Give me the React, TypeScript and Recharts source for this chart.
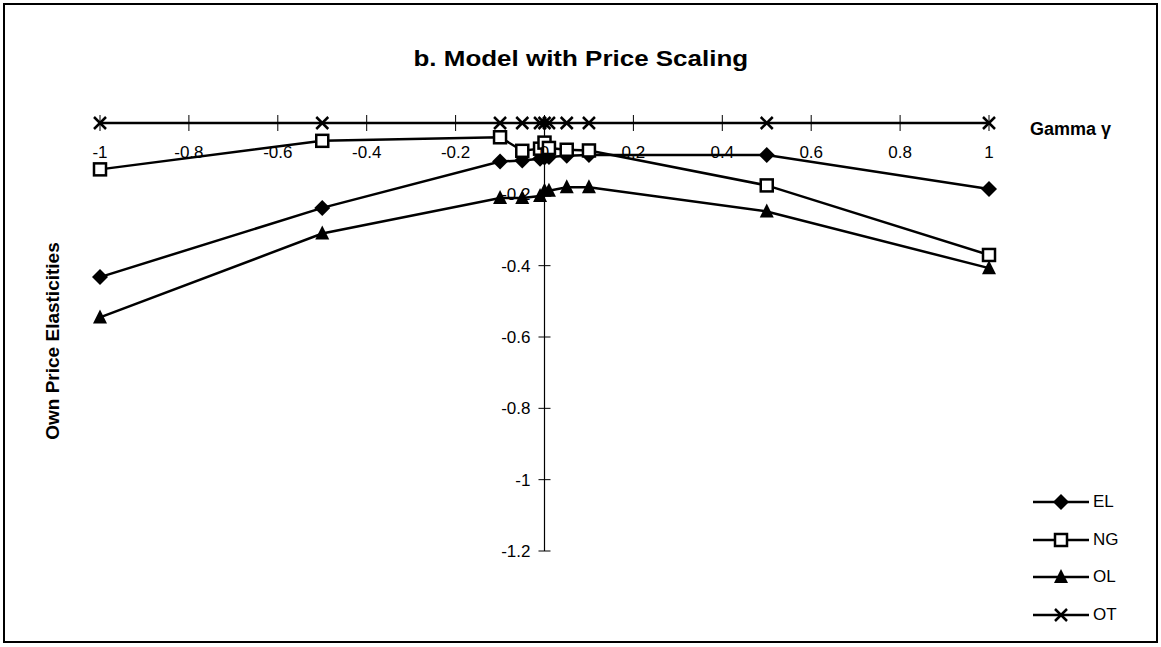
import { LineChart, Line, XAxis, YAxis, ReferenceLine, Legend } from 'recharts'

const gamma = [-1, -0.5, -0.1, -0.05, -0.01, 0, 0.01, 0.05, 0.1, 0.5, 1]
const el = [-0.432, -0.238, -0.108, -0.105, -0.1, -0.097, -0.095, -0.092, -0.09, -0.09, -0.185]
const ng = [-0.13, -0.05, -0.04, -0.078, -0.072, -0.055, -0.07, -0.075, -0.077, -0.175, -0.37]
const ol = [-0.545, -0.31, -0.21, -0.21, -0.205, -0.19, -0.19, -0.18, -0.18, -0.248, -0.407]
const ot = [0, 0, 0, 0, 0, 0, 0, 0, 0, 0, 0]

const xTicks = [-1, -0.8, -0.6, -0.4, -0.2, 0, 0.2, 0.4, 0.6, 0.8, 1]
const yTicks = [-0.2, -0.4, -0.6, -0.8, -1, -1.2]

const data = gamma.map((g, i) => ({ gamma: g, EL: el[i], NG: ng[i], OL: ol[i], OT: ot[i] }))

const FONT = '"Liberation Sans", Arial, sans-serif'

function marker(name: string, cx: number, cy: number, key?: string) {
  if (name === 'EL') {
    return <path key={key} d={`M${cx},${cy - 8}L${cx + 8},${cy}L${cx},${cy + 8}L${cx - 8},${cy}Z`} fill="#000" />
  }
  if (name === 'NG') {
    return <rect key={key} x={cx - 6} y={cy - 6} width={12} height={12} fill="#fff" stroke="#000" strokeWidth={2.5} />
  }
  if (name === 'OL') {
    return <path key={key} d={`M${cx},${cy - 8}L${cx + 7},${cy + 6}L${cx - 7},${cy + 6}Z`} fill="#000" />
  }
  return (
    <g key={key}>
      <line x1={cx - 6} y1={cy - 6} x2={cx + 6} y2={cy + 6} stroke="#000" strokeWidth={2.5} />
      <line x1={cx - 6} y1={cy + 6} x2={cx + 6} y2={cy - 6} stroke="#000" strokeWidth={2.5} />
    </g>
  )
}

const dotFor = (name: string) => (props: any) => {
  const { cx, cy, index } = props
  if (cx == null || cy == null) return <g key={`${name}-${index}`} />
  return marker(name, cx, cy, `${name}-${index}`)
}

// x axis sits on top of the plot (y = 0); ticks cross the line, labels go below it
const renderXTick = (props: any) => {
  const { x, payload, index } = props
  const axisY = 123
  return (
    <g key={`xt-${index}`}>
      <line x1={x} x2={x} y1={axisY - 8} y2={axisY + 8} stroke="#000" strokeWidth={1} />
      <text x={x} y={axisY + 35} textAnchor="middle" fontSize={17} fontFamily={FONT} fill="#000">
        {String(payload.value)}
      </text>
    </g>
  )
}

const renderLegend = (props: any) => {
  const { payload } = props
  return (
    <div style={{ fontFamily: FONT, fontSize: 17 }}>
      {payload.map((p: any) => (
        <div key={p.value} style={{ display: 'flex', alignItems: 'center', height: 37.7 }}>
          <svg width={58} height={20}>
            <line x1={0} x2={56} y1={10} y2={10} stroke="#000" strokeWidth={2.5} />
            {marker(p.value, 28, 10)}
          </svg>
          <span style={{ marginLeft: 2 }}>{p.value}</span>
        </div>
      ))}
    </div>
  )
}

const series = ['EL', 'NG', 'OL', 'OT']

export default function App() {
  return (
    <div style={{ position: 'absolute', left: 0, top: 0, width: 1161, height: 647, background: '#fff' }}>
      <div style={{ position: 'absolute', left: 3, top: 3, width: 1151, height: 636, border: '2px solid #000' }} />
      <div style={{ position: 'absolute', left: 0, top: 46, width: 1162, textAlign: 'center', fontFamily: FONT, fontWeight: 'bold', fontSize: 22 }}>
        <span style={{ display: 'inline-block', transform: 'scaleX(1.18)' }}>b. Model with Price Scaling</span>
      </div>
      <div style={{ position: 'absolute', left: 53, top: 341, transform: 'translate(-50%, -50%) rotate(-90deg)', whiteSpace: 'nowrap', fontFamily: FONT, fontWeight: 'bold', fontSize: 19 }}>
        Own Price Elasticities
      </div>
      <div style={{ position: 'absolute', left: 1030, top: 119, fontFamily: FONT, fontWeight: 'bold', fontSize: 18, whiteSpace: 'nowrap' }}>
        Gamma γ
      </div>
      <LineChart width={1161} height={647} data={data} margin={{ top: 93, right: 172, bottom: 96, left: 100 }} style={{ position: 'absolute', left: 0, top: 0 }}>
        <XAxis
          dataKey="gamma"
          type="number"
          domain={[-1, 1]}
          ticks={xTicks}
          orientation="top"
          height={30}
          tickSize={0}
          tickMargin={0}
          tickLine={false}
          axisLine={{ stroke: '#000', strokeWidth: 1.5 }}
          tick={renderXTick}
          interval={0}
        />
        <YAxis type="number" domain={[-1.2, 0]} hide width={0} />
        <ReferenceLine x={0} stroke="#000" strokeWidth={1.2} />
        {yTicks.map((v) => (
          <ReferenceLine
            key={v}
            segment={[{ x: -0.0135, y: v }, { x: 0.0135, y: v }]}
            stroke="#000"
            strokeWidth={1}
            label={{ value: String(v), position: 'left', offset: 8, fill: '#000', fontSize: 17, fontFamily: FONT }}
          />
        ))}
        {series.map((s) => (
          <Line
            key={s}
            dataKey={s}
            name={s}
            stroke="#000"
            strokeWidth={2.5}
            dot={dotFor(s)}
            activeDot={false}
            isAnimationActive={false}
            type="linear"
          />
        ))}
        <Legend
          layout="horizontal"
          verticalAlign="middle"
          align="center"
          content={renderLegend}
          wrapperStyle={{ position: 'absolute', left: 1033, top: 483, width: 110 }}
        />
      </LineChart>
    </div>
  )
}
